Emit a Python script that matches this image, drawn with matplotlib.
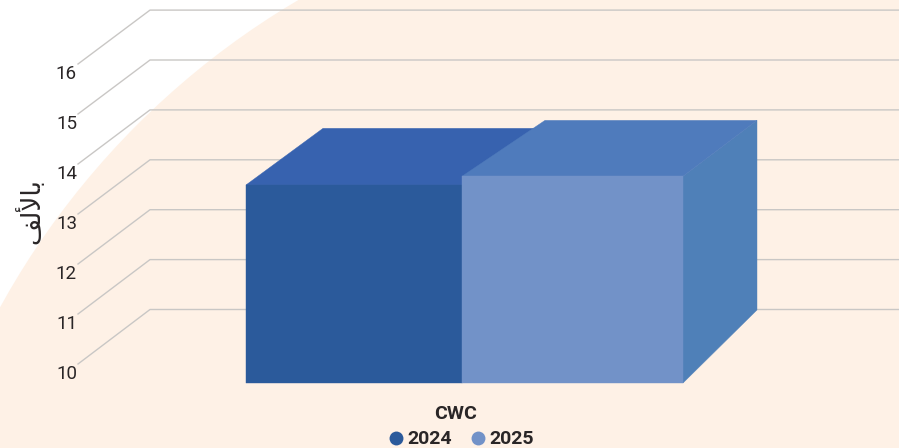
#!/usr/bin/env python3

import matplotlib
matplotlib.use("Agg")
import matplotlib.pyplot as plt
from matplotlib.lines import Line2D
from matplotlib.patches import Circle

category = "CWC"
years = ["2024", "2025"]
values = [13.64, 13.8]
ticks = [10, 11, 12, 13, 14, 15, 16]
# already shaped and in display order, matplotlib does no arabic shaping
unit_label = "\uFED2\uFEDF\uFEF7\uFE8E\uFE91"

front_colors = ["#2B5A9B", "#7292C8"]
top_colors = ["#3762AF", "#4F7BBC"]
side_colors = ["#2B5A9B", "#4F80B8"]
text_color = "#2A2627"
grid_color = "#C9C7C5"


# the axes run in pixels, these turn a value into a height on each wall
def wall_y(v):
    return 309.5 - (v - 10) * 49.9


def grid_front_y(v):
    return 364 - (v - 10) * 50


def bar_front_y(v):
    return 383 - (v - 10) * 54.4


def bar_back_y(v):
    return 310 - (v - 10) * 49.9


fig = plt.figure(figsize=(8.99, 4.48), dpi=100)
ax = fig.add_axes([0, 0, 1, 1])
ax.set_xlim(0, 899)
ax.set_ylim(448, 0)
ax.axis("off")

ax.add_patch(Circle((709, 697), 809, color="#FEF1E6", lw=0, zorder=0))

for t in ticks:
    ax.plot([78, 150, 899], [grid_front_y(t), wall_y(t), wall_y(t)],
            color=grid_color, lw=1, zorder=1)
    ax.text(77, grid_front_y(t) + 10, str(t), ha="right", va="center",
            family="Roboto", fontsize=13.5, color=text_color)

# x edges of the front face, and how far the back edges are shifted
lefts = [246, 462]
rights = [462, 683]
back_lefts = [323, 545]
back_rights = [540, 757]

for i in range(len(years)):
    ft = bar_front_y(values[i])
    bt = bar_back_y(values[i])
    fb = bar_front_y(10)
    bb = bar_back_y(10)
    ax.fill([rights[i], back_rights[i], back_rights[i], rights[i]], [ft, bt, bb, fb],
            color=side_colors[i], lw=0.3, zorder=2 + i)
    ax.fill([lefts[i], back_lefts[i], back_rights[i], rights[i]], [ft, bt, bt, ft],
            color=top_colors[i], lw=0.3, zorder=2 + i)
    ax.fill([lefts[i], rights[i], rights[i], lefts[i]], [ft, ft, fb, fb],
            color=front_colors[i], lw=0.3, zorder=2 + i)

ax.text(456, 414, category, ha="center", va="center", family="Roboto",
        fontsize=14, fontweight="bold", color=text_color)
ax.text(31, 211, unit_label, rotation=90, ha="center", va="center",
        family="DejaVu Sans", fontsize=19, color=text_color)

handles = [Line2D([], [], marker="o", ls="", ms=10, mew=0, color=c) for c in front_colors]
leg = ax.legend(handles, years, ncol=2, loc="center", bbox_to_anchor=(460, 439.5),
                bbox_transform=ax.transData, frameon=False, handlelength=1,
                handletextpad=0.1, columnspacing=0.85, borderpad=0,
                prop={"family": "Roboto", "size": 14, "weight": "bold"})
for txt in leg.get_texts():
    txt.set_color(text_color)

fig.savefig("out.png", dpi=100)
